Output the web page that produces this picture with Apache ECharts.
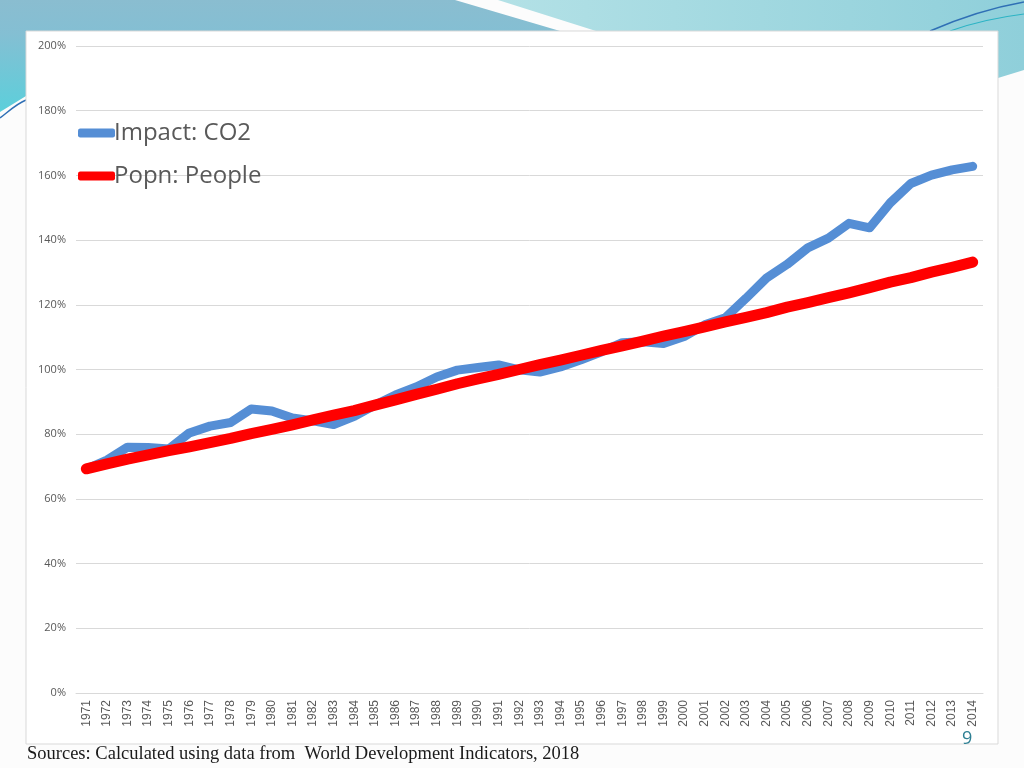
<!DOCTYPE html>
<html>
<head>
<meta charset="utf-8">
<script src="https://cdn.jsdelivr.net/npm/echarts@6/dist/echarts.min.js"></script>
<style>
  html, body { margin: 0; padding: 0; background: #fcfcfc; }
  #main { width: 1024px; height: 768px; }
</style>
</head>
<body>
<div id="main"></div>
<script>
// years on the x axis
var years = ['1971','1972','1973','1974','1975','1976','1977','1978','1979','1980',
  '1981','1982','1983','1984','1985','1986','1987','1988','1989','1990',
  '1991','1992','1993','1994','1995','1996','1997','1998','1999','2000',
  '2001','2002','2003','2004','2005','2006','2007','2008','2009','2010',
  '2011','2012','2013','2014'];

// Impact: CO2 (% of base year)
var co2 = [69.2, 72.0, 76.0, 75.9, 75.4, 80.4, 82.5, 83.6, 87.8, 87.2,
  85.0, 84.1, 83.0, 85.5, 89.0, 92.1, 94.6, 97.7, 99.8, 100.6,
  101.4, 99.9, 99.2, 100.8, 103.0, 105.5, 108.3, 108.6, 108.0, 110.2,
  113.8, 116.0, 122.0, 128.3, 132.5, 137.6, 140.6, 145.2, 143.8, 151.5,
  157.5, 160.1, 161.7, 162.8];

// Popn: People (% of base year)
var people = [69.3, 70.8, 72.3, 73.6, 74.9, 76.1, 77.4, 78.7, 80.2, 81.5,
  82.9, 84.4, 85.9, 87.3, 89.0, 90.6, 92.3, 93.9, 95.6, 97.1,
  98.5, 100.0, 101.5, 102.9, 104.4, 105.9, 107.3, 108.8, 110.3, 111.7,
  113.2, 114.7, 116.1, 117.6, 119.3, 120.7, 122.2, 123.7, 125.3, 127.0,
  128.4, 130.1, 131.6, 133.2];

var yTicks = [0, 20, 40, 60, 80, 100, 120, 140, 160, 180, 200];

var mychart = echarts.init(document.getElementById('main'));

var option = {
    animation: false,
    backgroundColor: '#fcfcfc',
    graphic: [
        // slide decoration, top left band
        {
            type: 'polygon', z: -10, silent: true,
            shape: { points: [[0,0],[455,0],[560,31],[26,31],[26,96],[0,112]] },
            style: {
                fill: new echarts.graphic.LinearGradient(0, 0, 0, 1, [
                    { offset: 0, color: '#8abdd0' },
                    { offset: 0.3, color: '#84bfd3' },
                    { offset: 1, color: '#5ccfdb' }
                ])
            }
        },
        // top right band
        {
            type: 'polygon', z: -10, silent: true,
            shape: { points: [[498,0],[1024,0],[1024,70],[998,78],[998,31],[596,31]] },
            style: {
                fill: new echarts.graphic.LinearGradient(0, 0, 1, 0, [
                    { offset: 0, color: '#b3e1e6' },
                    { offset: 1, color: '#8fcfda' }
                ])
            }
        },
        {
            type: 'bezierCurve', z: -9, silent: true,
            shape: { x1: 0, y1: 118, x2: 26, y2: 100, cpx1: 8, cpy1: 112, cpx2: 16, cpy2: 104 },
            style: { stroke: '#2f6fb5', lineWidth: 1.5, fill: null }
        },
        {
            type: 'bezierCurve', z: -9, silent: true,
            shape: { x1: 930, y1: 31, x2: 1024, y2: 2, cpx1: 960, cpy1: 18, cpx2: 990, cpy2: 8 },
            style: { stroke: '#2f6fb5', lineWidth: 1.5, fill: null }
        },
        {
            type: 'bezierCurve', z: -9, silent: true,
            shape: { x1: 950, y1: 31, x2: 1024, y2: 14, cpx1: 975, cpy1: 22, cpx2: 1000, cpy2: 17 },
            style: { stroke: '#2bb3c4', lineWidth: 1.2, fill: null }
        },
        // chart panel
        {
            type: 'rect', z: -5, silent: true,
            shape: { x: 26, y: 31, width: 972, height: 713 },
            style: { fill: '#ffffff', stroke: '#d9d9d9', lineWidth: 1 }
        },
        {
            type: 'text', left: 27, top: 745, silent: true,
            style: {
                text: 'Sources: Calculated using data from  World Development Indicators, 2018',
                fill: '#1a1a1a', font: '18.5px "Liberation Serif", serif'
            }
        },
        {
            type: 'text', left: 962, top: 730, silent: true,
            style: { text: '9', fill: '#2d7f93', font: '18px "Open Sans", sans-serif' }
        }
    ],
    legend: {
        orient: 'vertical',
        left: 73,
        top: 113,
        itemGap: 13,
        itemWidth: 37,
        itemHeight: 9,
        icon: 'roundRect',
        textStyle: {
            color: '#595959',
            fontSize: 24,
            lineHeight: 30,
            padding: [0, 0, 0, -6],
            fontFamily: '"Open Sans", sans-serif'
        },
        data: ['Impact: CO2', 'Popn: People']
    },
    grid: {
        left: 76,
        right: 41,
        top: 46,
        bottom: 75,
        containLabel: false
    },
    xAxis: {
        type: 'category',
        data: years,
        boundaryGap: true,
        axisLine: { lineStyle: { color: '#d9d9d9', width: 1 } },
        axisTick: { show: false },
        axisLabel: {
            rotate: 90,
            interval: 0,
            margin: 7,
            color: '#595959',
            fontSize: 12,
            fontFamily: '"Liberation Sans", sans-serif'
        }
    },
    yAxis: {
        type: 'value',
        min: yTicks[0],
        max: yTicks[yTicks.length - 1],
        interval: 20,
        axisLine: { show: false },
        axisTick: { show: false },
        splitLine: { lineStyle: { color: '#d9d9d9', width: 1 } },
        axisLabel: {
            margin: 10,
            color: '#595959',
            fontSize: 11,
            fontFamily: '"Open Sans", sans-serif',
            formatter: '{value}%'
        }
    },
    series: [
        {
            name: 'Impact: CO2',
            type: 'line',
            symbol: 'none',
            data: co2,
            color: '#558ed5',
            lineStyle: { color: '#558ed5', width: 9, cap: 'round', join: 'round' },
            z: 2
        },
        {
            name: 'Popn: People',
            type: 'line',
            symbol: 'none',
            data: people,
            color: '#ff0000',
            lineStyle: { color: '#ff0000', width: 11, cap: 'round', join: 'round' },
            z: 3
        }
    ]
};

mychart.setOption(option);
</script>
</body>
</html>
